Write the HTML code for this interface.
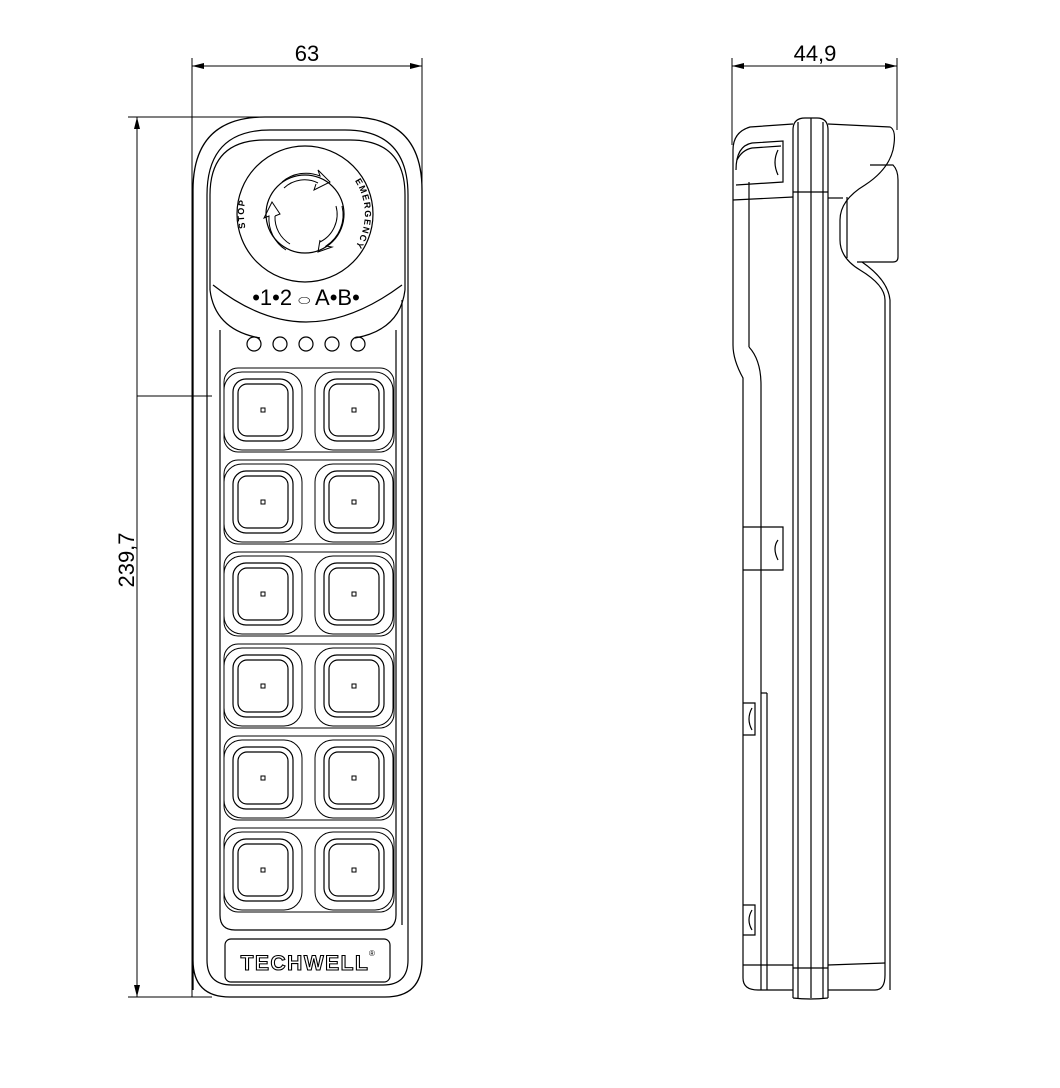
<!DOCTYPE html>
<html><head><meta charset="utf-8"><style>
html,body{margin:0;padding:0;background:#fff;}
svg{display:block;}
text{font-family:"Liberation Sans",sans-serif;}
</style></head><body>
<svg width="1060" height="1088" viewBox="0 0 1060 1088" xmlns="http://www.w3.org/2000/svg" fill="none" stroke="#000" stroke-width="1.2">
<defs>
<marker id="a" markerWidth="12" markerHeight="6" refX="12" refY="3" orient="auto-start-reverse" markerUnits="userSpaceOnUse"><path d="M0,0 L12,3 L0,6 Z" fill="#000" stroke="none"/></marker>
<g id="btn">
<rect x="-39" y="-38" width="78" height="78" rx="18" stroke-width="1"/>
<rect x="-30" y="-31" width="60" height="62" rx="13"/>
<rect x="-25" y="-26" width="50" height="52" rx="9"/>
<rect x="-2" y="-2" width="4" height="4" stroke-width="1"/>
</g>
<path id="arcR" d="M331,160 A60,60 0 0 1 331,268"/>
<path id="arcL" d="M252,244 A60,60 0 0 1 252,184"/>
</defs>

<line x1="192" y1="58" x2="192" y2="997" stroke-width="1"/>
<line x1="422" y1="58" x2="422" y2="228" stroke-width="1"/>
<line x1="192" y1="66" x2="422" y2="66" stroke-width="1" marker-start="url(#a)" marker-end="url(#a)"/>
<text x="307" y="61" font-size="22" text-anchor="middle" fill="#000" stroke="none">63</text>
<line x1="128" y1="117" x2="305" y2="117" stroke-width="1"/>
<line x1="128" y1="997" x2="212" y2="997" stroke-width="1"/>
<line x1="137" y1="117" x2="137" y2="997" stroke-width="1" marker-start="url(#a)" marker-end="url(#a)"/>
<line x1="137" y1="396" x2="212" y2="396" stroke-width="1"/>
<text transform="translate(134,560) rotate(-90)" font-size="22" text-anchor="middle" fill="#000" stroke="none">239,7</text>

<path d="M193,990 L193,190 Q193,117 265,117 L350,117 Q422,117 422,190 L422,960 Q422,997 385,997 L230,997 Q193,997 193,960 Z" stroke-width="1.3"/>
<path d="M207,960 L207,195 Q207,130 270,130 L345,130 Q408,130 408,195 L408,960 Q408,985 383,985 L232,985 Q207,985 207,960 Z"/>
<path d="M210,290 L210,195 Q210,140 265,140 L350,140 Q405,140 405,195 L405,290"/>
<path d="M210,290 Q215,330 260,338 M405,290 Q400,330 355,338"/>
<path d="M213,285 Q260,322 306,322 Q352,322 402,285"/>
<circle cx="305" cy="214" r="68"/>
<circle cx="305" cy="214" r="39"/>
<g stroke-width="1">
<path d="M284,188 A30,30 0 0 1 318,183 M282,182 A37,37 0 0 1 320,176 L318,170 L330,182 L314,190 L316,184"/>
<path d="M336,206 A31,31 0 0 1 320,242 M342,206 A37,37 0 0 1 326,246 L332,247 L318,252 L320,240"/>
<path d="M290,244 A31,31 0 0 1 275,216 M286,250 A37,37 0 0 1 269,216 L264,218 L272,202 L280,214 L275,216"/>
</g>
<text font-size="9" font-weight="bold" fill="#000" stroke="none" letter-spacing="1.4" text-anchor="middle"><textPath href="#arcR" startOffset="50%">EMERGENCY</textPath></text>
<text font-size="9" font-weight="bold" fill="#000" stroke="none" letter-spacing="1" text-anchor="middle"><textPath href="#arcL" startOffset="50%">STOP</textPath></text>
<text x="306" y="305" font-size="22" text-anchor="middle" fill="#000" stroke="none">•1•2 <tspan font-size="14">⬭</tspan> A•B•</text>
<circle cx="254" cy="344" r="7"/><circle cx="280" cy="344" r="7"/><circle cx="306" cy="344" r="7"/><circle cx="332" cy="344" r="7"/><circle cx="358" cy="344" r="7"/>
<path d="M220,330 L220,915 Q220,930 235,930 L380,930 Q396,930 396,915 L396,330"/>
<path d="M402,300 L402,925"/>
<rect x="224" y="368" width="170" height="84" rx="14" stroke-width="1"/>
<use href="#btn" x="263" y="410"/><use href="#btn" x="354" y="410"/>
<rect x="224" y="460" width="170" height="84" rx="14" stroke-width="1"/>
<use href="#btn" x="263" y="502"/><use href="#btn" x="354" y="502"/>
<rect x="224" y="552" width="170" height="84" rx="14" stroke-width="1"/>
<use href="#btn" x="263" y="594"/><use href="#btn" x="354" y="594"/>
<rect x="224" y="644" width="170" height="84" rx="14" stroke-width="1"/>
<use href="#btn" x="263" y="686"/><use href="#btn" x="354" y="686"/>
<rect x="224" y="736" width="170" height="84" rx="14" stroke-width="1"/>
<use href="#btn" x="263" y="778"/><use href="#btn" x="354" y="778"/>
<rect x="224" y="828" width="170" height="84" rx="14" stroke-width="1"/>
<use href="#btn" x="263" y="870"/><use href="#btn" x="354" y="870"/>
<rect x="225" y="939" width="165" height="43" rx="6"/>
<text x="305" y="970" font-size="21" font-weight="bold" text-anchor="middle" fill="#fff" stroke="#000" stroke-width="1.1" letter-spacing="1.5">TECHWELL</text>
<text x="369" y="956" font-size="8" fill="#000" stroke="none">®</text>

<line x1="732" y1="58" x2="732" y2="145" stroke-width="1"/>
<line x1="897" y1="58" x2="897" y2="130" stroke-width="1"/>
<line x1="732" y1="66" x2="897" y2="66" stroke-width="1" marker-start="url(#a)" marker-end="url(#a)"/>
<text x="815" y="61" font-size="22" text-anchor="middle" fill="#000" stroke="none">44,9</text>

<path d="M793,998 L793,130 Q793,118 805,118 L817,118 Q828,118 828,130 L828,998"/>
<line x1="798" y1="122" x2="798" y2="998"/>
<line x1="811" y1="118" x2="811" y2="998"/>
<line x1="823" y1="122" x2="823" y2="998"/>
<path d="M793,998 Q810,1000 828,998"/>
<path d="M793,124 L750,127 Q733,132 733,150 L733,345 Q733,360 743,378 L743,978 Q743,990 758,990 L793,990"/>
<path d="M828,124 L890,127 Q897,130 893,150 Q888,170 865,185 Q840,200 840,220 L840,240 Q840,258 860,270 Q885,285 885,300 L885,975 Q885,990 875,990 L828,990"/>
<line x1="890" y1="300" x2="890" y2="990"/>
<path d="M890,300 Q888,280 862,262"/>
<path d="M870,165 L893,165 Q898,170 898,180 L898,257 Q898,262 893,262 L857,262"/>
<line x1="847" y1="197" x2="847" y2="258"/>
<line x1="733" y1="200" x2="793" y2="197"/>
<line x1="828" y1="198" x2="843" y2="198"/>
<line x1="793" y1="192" x2="828" y2="192"/>
<path d="M736,170 Q736,146 752,143 L783,141 L783,182 L736,185"/>
<path d="M737,160 Q742,150 752,148 L781,146"/>
<line x1="749" y1="182" x2="749" y2="347"/>
<path d="M749,347 Q761,360 761,385 L761,990"/>
<path d="M778,150 Q772,162 778,175"/>
<line x1="767" y1="693" x2="767" y2="990"/>
<line x1="767" y1="693" x2="761" y2="693"/>
<path d="M743,527 L783,527 L783,570 L743,570"/>
<path d="M778,540 Q772,548 778,560"/>
<path d="M743,703 L755,703 L755,735 L743,735"/>
<path d="M752,708 Q746,719 752,730"/>
<path d="M743,905 L755,905 L755,935 L743,935"/>
<path d="M752,910 Q746,920 752,930"/>
<line x1="743" y1="965" x2="793" y2="965"/>
<line x1="828" y1="965" x2="885" y2="963"/>
<line x1="793" y1="968" x2="828" y2="968"/>
</svg>
</body></html>
